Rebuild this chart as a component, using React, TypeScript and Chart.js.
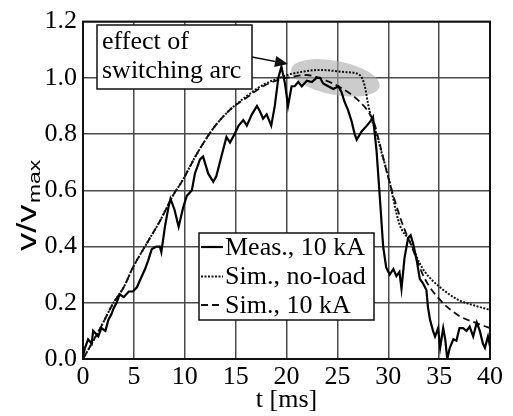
import React, { useEffect, useRef } from "react";
import { Chart, registerables } from "chart.js";

Chart.register(...registerables);

// ---- data ----
const measT = [
  0, 0.2, 0.5, 0.85, 1.0, 1.5, 1.8, 2.2, 2.5, 2.8, 3.0, 3.3, 3.6, 4.0, 4.5, 4.9, 5.3, 5.6, 6.1, 6.4,
  6.75, 7.2, 7.55, 7.7, 8.05, 8.4, 8.6, 9.0, 9.4, 9.85, 10.2, 10.7, 11.0, 11.5, 11.8, 12.3, 12.8, 13.1,
  13.6, 14.1, 14.45, 14.9, 15.3, 15.75, 16.1, 16.6, 17.1, 17.4, 17.7, 18.05, 18.5, 18.85, 19.2, 19.5,
  19.85, 20.15, 20.5, 20.8, 21.15, 21.5, 22.0, 22.5, 22.95, 23.3, 23.6, 24.1, 24.6, 25.1, 25.4, 25.7,
  26.05, 26.4, 26.7, 26.9, 27.4, 27.9, 28.35, 28.5, 28.85, 29.2, 29.5, 29.8, 30.15, 30.5, 30.8, 31.1,
  31.3, 31.6, 31.95, 32.2, 32.45, 32.8, 33.1, 33.4, 33.75, 33.9, 34.1, 34.4, 34.6, 34.9, 35.1, 35.4,
  35.6, 35.8, 36.05, 36.4, 36.7, 37.0, 37.35, 37.7, 38.0, 38.35, 38.7, 39.0, 39.3, 39.5, 39.8, 40,
];
const measV = [
  0.01, 0.04, 0.07, 0.055, 0.1, 0.08, 0.11, 0.1, 0.14, 0.16, 0.18, 0.2, 0.23, 0.22, 0.24, 0.24, 0.255,
  0.28, 0.32, 0.35, 0.39, 0.4, 0.4, 0.38, 0.47, 0.54, 0.57, 0.53, 0.47, 0.54, 0.58, 0.6, 0.66, 0.71,
  0.72, 0.66, 0.63, 0.65, 0.72, 0.79, 0.77, 0.8, 0.83, 0.85, 0.83, 0.87, 0.9, 0.88, 0.855, 0.87, 0.83,
  0.9, 1.0, 1.04, 0.98, 0.9, 0.97, 0.97, 0.985, 0.97, 0.99, 0.985, 1.0, 1.0, 0.98, 0.97, 0.96, 0.97,
  0.95, 0.915, 0.885, 0.845, 0.8, 0.78, 0.81, 0.83, 0.85, 0.86, 0.74, 0.56, 0.4, 0.325, 0.3, 0.32,
  0.295, 0.31, 0.25, 0.36, 0.43, 0.44, 0.41, 0.35, 0.285, 0.27, 0.245, 0.185, 0.14, 0.1, 0.08, 0.11,
  0.04, 0.11, 0.07, 0.0, 0.04, 0.07, 0.065, 0.11, 0.11, 0.1, 0.115, 0.08, 0.13, 0.1, 0.055, 0.04, 0.08,
  0.045,
];

const simNoLoadT = [
  0, 1.7, 3.0, 4.0, 4.9, 6.25, 7.55, 8.9, 9.7, 11.2, 12.8, 14.4, 16.1, 17.7, 19.35, 20.1, 21.3, 23.3,
  25.9, 27.2, 27.7, 28.0, 28.35, 28.85, 29.3, 30.0, 31.1, 32.1, 33.1, 33.6, 35.1, 36.9, 38.5, 40,
];
const simNoLoadV = [
  0, 0.11, 0.2, 0.255, 0.325, 0.41, 0.49, 0.585, 0.63, 0.73, 0.82, 0.885, 0.935, 0.975, 1.0, 1.01, 1.02,
  1.028, 1.02, 1.01, 0.97, 0.91, 0.855, 0.8, 0.74, 0.65, 0.48, 0.42, 0.34, 0.31, 0.255, 0.21, 0.19, 0.175,
];

const sim10T = [
  0, 1.7, 3.0, 4.0, 4.9, 6.25, 7.55, 8.9, 9.7, 11.2, 12.8, 14.4, 16.1, 17.7, 19.35, 20, 22, 23.9, 25.1,
  27.2, 28.2, 28.7, 29.2, 30, 31.3, 32.3, 33.6, 35.1, 36.9, 38.5, 40,
];
const sim10V = [
  0, 0.11, 0.2, 0.255, 0.325, 0.41, 0.49, 0.585, 0.63, 0.73, 0.82, 0.885, 0.93, 0.97, 0.995, 1.0, 1.01,
  0.99, 0.97, 0.915, 0.87, 0.83, 0.76, 0.645, 0.49, 0.4, 0.285, 0.21, 0.155, 0.13, 0.11,
];

const legendLabels = ["Meas., 10 kA", "Sim., no-load", "Sim., 10 kA"];
const noteLines = ["effect of", "switching arc"];
const xTitle = "t [ms]";
const yTitleMain = "v/v";
const yTitleSub = "max";

const SERIF = '"Liberation Serif", "Times New Roman", serif';
const SANS = '"Liberation Sans", Arial, sans-serif';

const toXY = (t: number[], v: number[]) => t.map((x, i) => ({ x, y: v[i] }));

const overlayPlugin = {
  id: "overlay",
  beforeDatasetsDraw(chart: any) {
    const { ctx, chartArea, scales } = chart;
    const xs = scales.x;
    const ys = scales.y;
    ctx.save();
    ctx.fillStyle = "rgba(170,170,170,0.6)";
    ctx.beginPath();
    ctx.ellipse(
      xs.getPixelForValue(24.8),
      ys.getPixelForValue(1.0),
      45,
      17,
      (11 * Math.PI) / 180,
      0,
      Math.PI * 2
    );
    ctx.fill();
    ctx.restore();
    ctx.save();
    ctx.strokeStyle = "#111";
    ctx.lineWidth = 2;
    ctx.strokeRect(chartArea.left, chartArea.top, chartArea.right - chartArea.left, chartArea.bottom - chartArea.top);
    ctx.restore();
  },
  afterDatasetsDraw(chart: any) {
    const { ctx, data } = chart;
    ctx.save();
    ctx.fillStyle = "#fff";
    ctx.strokeStyle = "#111";
    ctx.lineWidth = 1.5;
    ctx.fillRect(97, 25, 155, 64);
    ctx.strokeRect(97, 25, 155, 64);
    ctx.fillStyle = "#000";
    ctx.font = `26px ${SERIF}`;
    ctx.textAlign = "left";
    ctx.textBaseline = "alphabetic";
    ctx.fillText(noteLines[0], 102, 49);
    ctx.fillText(noteLines[1], 102, 78);
    const x0 = 252, y0 = 57, x1 = 288, y1 = 64;
    const ang = Math.atan2(y1 - y0, x1 - x0);
    const hl = 13, hw = 5.5;
    const bx = x1 - hl * Math.cos(ang), by = y1 - hl * Math.sin(ang);
    ctx.strokeStyle = "#111";
    ctx.lineWidth = 1.5;
    ctx.beginPath();
    ctx.moveTo(x0, y0);
    ctx.lineTo(bx, by);
    ctx.stroke();
    ctx.beginPath();
    ctx.moveTo(x1, y1);
    ctx.lineTo(bx + hw * Math.sin(ang), by - hw * Math.cos(ang));
    ctx.lineTo(bx - hw * Math.sin(ang), by + hw * Math.cos(ang));
    ctx.closePath();
    ctx.fillStyle = "#111";
    ctx.fill();
    ctx.fillStyle = "#fff";
    ctx.fillRect(199, 233, 175, 87);
    ctx.strokeStyle = "#111";
    ctx.lineWidth = 1.5;
    ctx.strokeRect(199, 233, 175, 87);
    const rows = [247, 276.5, 305];
    data.datasets.forEach((ds: any, i: number) => {
      ctx.save();
      ctx.strokeStyle = ds.borderColor;
      ctx.lineWidth = ds.borderWidth;
      ctx.setLineDash(ds.borderDash || []);
      ctx.beginPath();
      ctx.moveTo(201, rows[i]);
      ctx.lineTo(223, rows[i]);
      ctx.stroke();
      ctx.restore();
      ctx.fillStyle = "#000";
      ctx.font = `26px ${SERIF}`;
      ctx.textBaseline = "middle";
      ctx.fillText(legendLabels[i], 225, rows[i] + 1);
    });
    ctx.restore();
  },
  afterDraw(chart: any) {
    const { ctx } = chart;
    ctx.save();
    ctx.translate(36, 251);
    ctx.rotate(-Math.PI / 2);
    ctx.scale(1.35, 1);
    ctx.fillStyle = "#000";
    ctx.textAlign = "left";
    ctx.textBaseline = "alphabetic";
    ctx.font = `27px ${SANS}`;
    ctx.fillText(yTitleMain, 0, 0);
    const w = ctx.measureText(yTitleMain).width;
    ctx.font = `17px ${SANS}`;
    ctx.fillText(yTitleSub, w + 1, 4);
    ctx.restore();
  },
};

export default function App() {
  const ref = useRef<HTMLCanvasElement | null>(null);
  useEffect(() => {
    if (!ref.current) return;
    const chart = new Chart(ref.current, {
      type: "line",
      data: {
        datasets: [
          {
            label: legendLabels[0],
            data: toXY(measT, measV),
            borderColor: "#000",
            borderWidth: 2.2,
            pointRadius: 0,
            tension: 0,
          },
          {
            label: legendLabels[1],
            data: toXY(simNoLoadT, simNoLoadV),
            borderColor: "#111",
            borderWidth: 2,
            borderDash: [2, 1.5],
            pointRadius: 0,
            cubicInterpolationMode: "monotone",
          },
          {
            label: legendLabels[2],
            data: toXY(sim10T, sim10V),
            borderColor: "#111",
            borderWidth: 1.8,
            borderDash: [7, 4],
            pointRadius: 0,
            cubicInterpolationMode: "monotone",
          },
        ],
      },
      options: {
        animation: false,
        responsive: false,
        layout: { padding: { top: 19, right: 23, left: 0, bottom: 0 } },
        plugins: { legend: { display: false }, tooltip: { enabled: false } },
        scales: {
          x: {
            type: "linear",
            min: 0,
            max: 40,
            afterFit: (s: any) => {
              s.height = 57;
            },
            ticks: {
              stepSize: 5,
              color: "#000",
              padding: 3,
              font: { family: SERIF, size: 26, lineHeight: 1.2 },
            },
            grid: { color: "#4a4a4a", lineWidth: 1.5, drawTicks: false },
            border: { color: "#111", width: 2 },
            title: {
              display: true,
              text: xTitle,
              color: "#000",
              font: { family: SERIF, size: 26, lineHeight: 1.0 },
              padding: { top: 0, bottom: 3 },
            },
          },
          y: {
            type: "linear",
            min: 0,
            max: 1.2,
            afterFit: (s: any) => {
              s.width = 83;
            },
            ticks: {
              stepSize: 0.2,
              color: "#000",
              padding: 6,
              font: { family: SERIF, size: 26, lineHeight: 1.2 },
              callback: (v: any) => Number(v).toFixed(1),
            },
            grid: { color: "#4a4a4a", lineWidth: 1.5, drawTicks: false },
            border: { color: "#111", width: 2 },
          },
        },
      },
      plugins: [overlayPlugin],
    });
    return () => chart.destroy();
  }, []);
  return (
    <div style={{ position: "fixed", left: 0, top: 0, width: 513, height: 416, background: "#fff" }}>
      <canvas ref={ref} width={513} height={416} />
    </div>
  );
}
